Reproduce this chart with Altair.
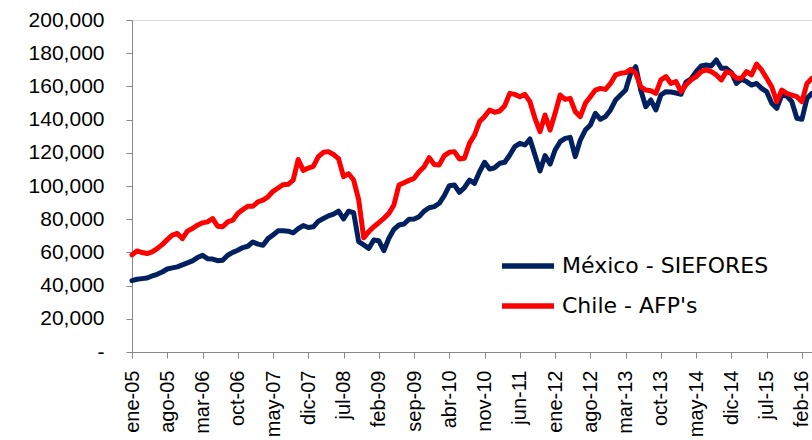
import altair as alt
import pandas as pd

# Monthly periods, January 2005 to April 2016 (Spanish month abbreviations)
MESES = ["ene", "feb", "mar", "abr", "may", "jun", "jul", "ago", "sep", "oct", "nov", "dic"]
periodos = [f"{MESES[k % 12]}-{5 + k // 12:02d}" for k in range(136)]
etiquetas_eje = periodos[::7]

# Assets under management, thousands
mexico_siefores = [
    43.0, 43.8, 44.2, 44.6, 45.8, 46.8, 48.2, 50.0, 50.7, 51.3,
    52.5, 53.7, 54.9, 56.9, 58.2, 56.2, 56.0, 55.0, 55.2, 58.3,
    60.0, 61.3, 62.9, 63.7, 66.3, 65.0, 64.3, 68.3, 70.5, 73.0,
    73.0, 72.8, 71.8, 74.3, 76.2, 75.0, 75.4, 78.8, 80.4, 82.0,
    83.0, 84.8, 80.2, 84.8, 84.0, 66.5, 64.5, 62.4, 67.5, 67.0,
    61.0, 68.5, 73.9, 76.5, 77.1, 80.0, 80.1, 81.5, 84.9, 86.9,
    87.6, 89.6, 94.2, 100.2, 100.6, 96.2, 99.0, 103.6, 101.6, 108.6,
    114.3, 110.2, 111.0, 113.7, 114.3, 118.7, 123.7, 125.7, 124.7, 128.3,
    118.7, 109.0, 118.3, 113.2, 121.7, 126.7, 128.7, 129.3, 117.7, 127.7,
    133.7, 136.7, 143.8, 140.2, 141.8, 145.8, 151.8, 154.8, 157.8, 167.9,
    171.9, 157.8, 147.8, 151.8, 145.8, 154.8, 156.8, 156.6, 156.0, 155.3,
    162.6, 164.6, 168.9, 172.3, 172.9, 172.3, 175.9, 170.9, 170.9, 168.3,
    161.8, 164.3, 162.9, 160.8, 161.8, 158.8, 156.8, 149.8, 146.8, 154.8,
    154.2, 150.8, 140.8, 140.2, 152.8, 155.8,
]

chile_afp = [
    58.5, 60.9, 59.9, 59.3, 60.3, 62.3, 64.7, 67.7, 70.4, 71.4,
    68.3, 72.8, 74.4, 76.4, 77.8, 78.4, 80.4, 75.8, 75.4, 78.4,
    79.4, 83.4, 85.8, 87.8, 87.8, 90.5, 91.5, 93.5, 96.8, 98.8,
    100.8, 101.0, 103.5, 116.0, 109.4, 110.8, 111.8, 117.7, 120.3, 120.7,
    119.0, 116.5, 105.6, 107.4, 103.6, 91.8, 68.8, 72.5, 75.5, 77.9,
    80.5, 83.5, 88.6, 100.6, 102.0, 103.4, 104.6, 108.6, 111.6, 117.1,
    113.0, 112.7, 118.3, 120.3, 120.7, 116.3, 116.7, 125.7, 130.7, 138.8,
    141.8, 145.8, 144.4, 145.2, 148.4, 155.8, 155.2, 153.8, 155.2, 150.8,
    140.8, 132.7, 142.8, 133.7, 143.8, 154.8, 152.2, 152.8, 144.8, 141.8,
    149.8, 153.8, 157.8, 158.8, 158.2, 161.8, 166.9, 167.9, 168.3, 170.3,
    167.9, 159.8, 157.8, 157.4, 155.8, 163.9, 165.9, 161.8, 162.9, 156.8,
    161.0, 163.9, 165.9, 168.9, 169.9, 168.9, 166.9, 163.9, 168.9, 167.9,
    164.9, 164.9, 168.9, 166.9, 173.5, 169.9, 164.9, 159.8, 150.8, 157.8,
    155.8, 154.8, 153.8, 150.8, 161.8, 164.9,
]

series = ["México - SIEFORES", "Chile - AFP's"]
colores = ["#002060", "#FF0000"]

df = pd.concat(
    [
        pd.DataFrame({"periodo": periodos, "serie": series[0],
                      "valor": [v * 1000 for v in mexico_siefores]}),
        pd.DataFrame({"periodo": periodos, "serie": series[1],
                      "valor": [v * 1000 for v in chile_afp]}),
    ],
    ignore_index=True,
)

FUENTE = "DejaVu Sans"
GRIS = "#8c8c8c"

chart = (
    alt.Chart(df)
    .mark_line(strokeWidth=5, strokeJoin="round", strokeCap="round")
    .encode(
        x=alt.X(
            "periodo:O",
            sort=periodos,
            scale=alt.Scale(type="point", padding=0),
            axis=alt.Axis(
                values=etiquetas_eje,
                labelAngle=-90,
                labelOverlap=False,
                labelPadding=12,
                tickSize=6,
                labelFontSize=20,
                title=None,
            ),
        ),
        y=alt.Y(
            "valor:Q",
            scale=alt.Scale(domain=[0, 200000], nice=False, zero=True),
            axis=alt.Axis(
                values=list(range(0, 200001, 20000)),
                labelExpr="datum.value === 0 ? '-' : format(datum.value, ',')",
                labelPadding=22,
                tickSize=6,
                labelFontSize=21,
                grid=False,
                title=None,
            ),
        ),
        color=alt.Color(
            "serie:N",
            sort=series,
            scale=alt.Scale(domain=series, range=colores),
            legend=alt.Legend(
                title=None,
                orient="none",
                legendX=367,
                legendY=217,
                padding=0,
                symbolType="stroke",
                symbolSize=2704,
                symbolStrokeWidth=5.5,
                labelOffset=5,
                labelFontSize=22,
                labelFont=FUENTE,
                labelColor="#000000",
                labelLimit=0,
                rowPadding=-12,
            ),
        ),
    )
    .properties(
        width=680,
        height=332,
        autosize=alt.AutoSizeParams(type="none"),
        padding={"left": 132, "top": 20, "right": 0, "bottom": 88},
    )
    .configure_view(stroke=None)
    .configure_axis(
        labelFont=FUENTE,
        labelColor="#000000",
        domainColor=GRIS,
        domainWidth=1.5,
        tickColor=GRIS,
        tickWidth=1.5,
    )
    .configure(background="white")
)

chart.save("out.html", embed_options={"renderer": "svg", "actions": False})
